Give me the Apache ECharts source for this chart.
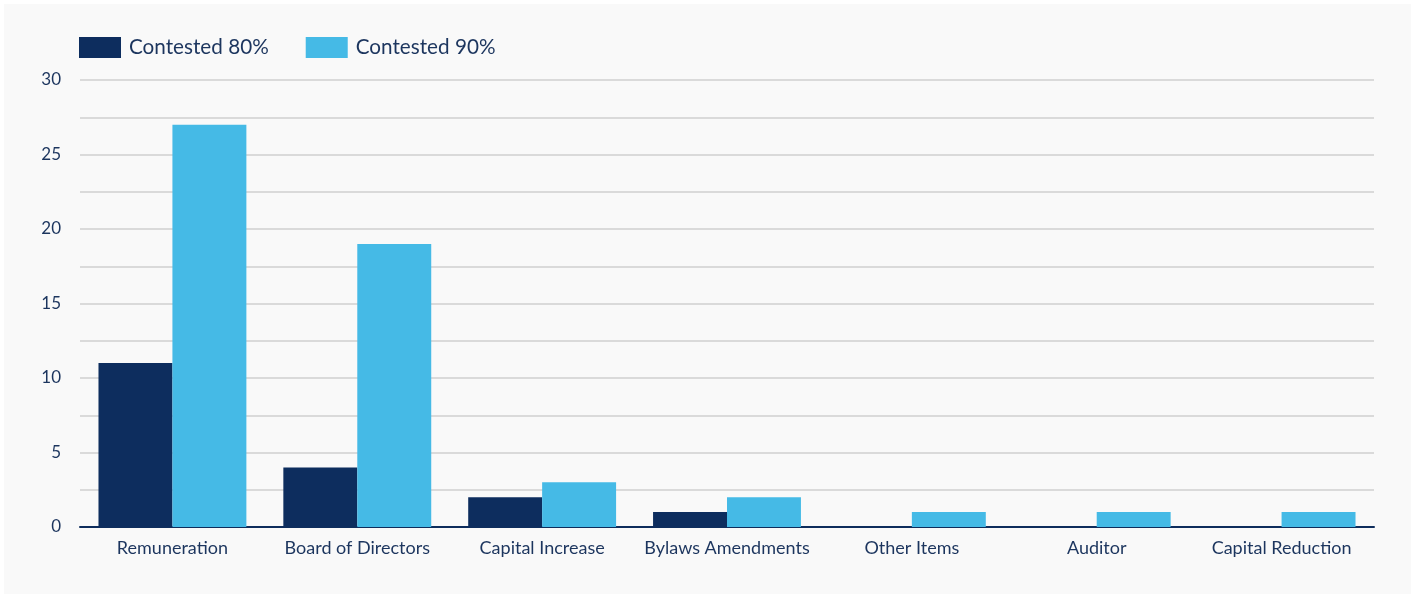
<!DOCTYPE html>
<html>
<head>
<meta charset="utf-8">
<style>
  html, body { margin: 0; padding: 0; background: #ffffff; }
  #chart { position: absolute; left: 4px; top: 4px; width: 1407px; height: 590px; background: #f9f9f9; }
</style>
<script src="https://cdn.jsdelivr.net/npm/echarts@6/dist/echarts.min.js"></script>
</head>
<body>
<div id="chart"></div>
<script>
// Contested agenda items by category
const categories = ['Remuneration', 'Board of Directors', 'Capital Increase', 'Bylaws Amendments', 'Other Items', 'Auditor', 'Capital Reduction'];
const contested80 = [11, 4, 2, 1, 0, 0, 0];
const contested90 = [27, 19, 3, 2, 1, 1, 1];
const seriesNames = ['Contested 80%', 'Contested 90%'];

const textColor = '#1c355e';
const chart = echarts.init(document.getElementById('chart'));
chart.setOption({
  backgroundColor: '#f9f9f9',
  textStyle: { fontFamily: 'Lato, sans-serif' },
  legend: {
    left: 70,
    top: 28,
    itemWidth: 42,
    itemHeight: 21,
    itemGap: 37,
    icon: 'rect',
    textStyle: { color: textColor, fontSize: 20.7, fontFamily: 'Lato', padding: [0, 0, 0, 3] },
    data: seriesNames
  },
  grid: { left: 76, right: 37, top: 76, bottom: 67, containLabel: false },
  xAxis: {
    type: 'category',
    data: categories,
    axisLine: { lineStyle: { color: '#0e2d5c', width: 2 } },
    axisTick: { show: false },
    axisLabel: { color: textColor, fontSize: 18, margin: 12, interval: 0, fontFamily: 'Lato' }
  },
  yAxis: {
    type: 'value',
    min: 0,
    max: 30,
    interval: 2.5,
    axisLine: { show: false },
    axisTick: { show: false },
    splitLine: { lineStyle: { color: '#dadada', width: 2 } },
    axisLabel: {
      color: textColor,
      fontSize: 17,
      margin: 19,
      fontFamily: 'Lato',
      formatter: v => (v % 5 === 0 ? String(v) : '')
    }
  },
  series: [
    {
      name: seriesNames[0],
      type: 'bar',
      data: contested80,
      itemStyle: { color: '#0d2d5e' },
      barGap: '0%',
      barCategoryGap: '20%'
    },
    {
      name: seriesNames[1],
      type: 'bar',
      data: contested90,
      itemStyle: { color: '#45bae6' },
      barGap: '0%',
      barCategoryGap: '20%'
    }
  ]
});
</script>
</body>
</html>
